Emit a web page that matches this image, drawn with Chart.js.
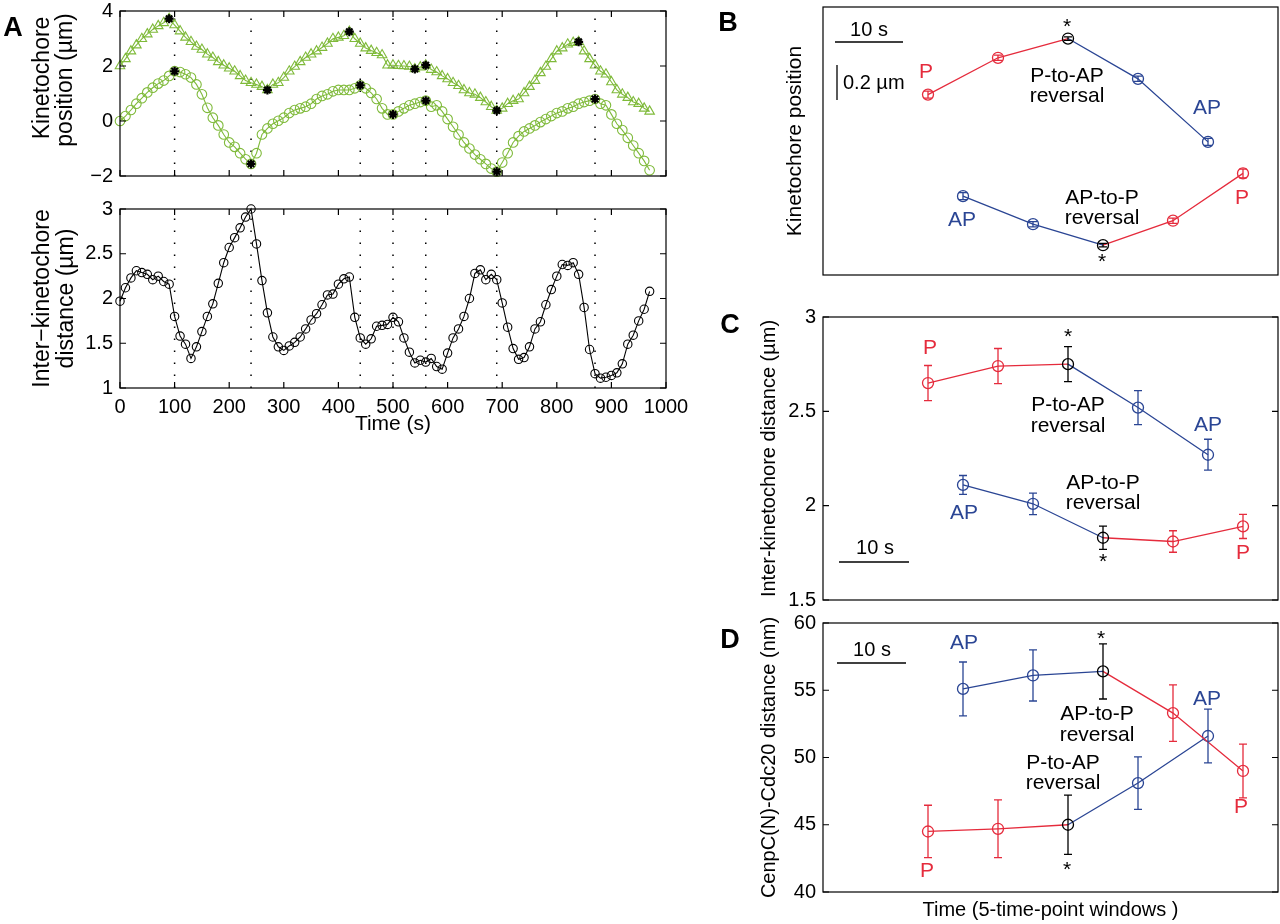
<!DOCTYPE html>
<html>
<head>
<meta charset="utf-8">
<script src="https://cdn.jsdelivr.net/npm/chart.js@4.4.0/dist/chart.umd.min.js"></script>
<style>
  body { margin: 0; background: #fff; width: 1280px; height: 924px; position: relative; overflow: hidden; }
  canvas { position: absolute; }
</style>
</head>
<body>
<canvas id="aTop"></canvas>
<canvas id="aBottom"></canvas>
<canvas id="panelB"></canvas>
<canvas id="panelC"></canvas>
<canvas id="panelD"></canvas>
<script>
// ---- panel A data (one sample every 10 s) ----
const times = [0, 10, 20, 30, 40, 50, 60, 70, 80, 90,
  100, 110, 120, 130, 140, 150, 160, 170, 180, 190,
  200, 210, 220, 230, 240, 250, 260, 270, 280, 290,
  300, 310, 320, 330, 340, 350, 360, 370, 380, 390,
  400, 410, 420, 430, 440, 450, 460, 470, 480, 490,
  500, 510, 520, 530, 540, 550, 560, 570, 580, 590,
  600, 610, 620, 630, 640, 650, 660, 670, 680, 690,
  700, 710, 720, 730, 740, 750, 760, 770, 780, 790,
  800, 810, 820, 830, 840, 850, 860, 870, 880, 890,
  900, 910, 920, 930, 940, 950, 960, 970];

const posTriangle = [2.0, 2.26, 2.54, 2.76, 2.99, 3.16, 3.33, 3.46, 3.57, 3.72,
  3.49, 3.27, 3.04, 2.88, 2.71, 2.60, 2.43, 2.31, 2.15, 2.03,
  1.92, 1.81, 1.64, 1.47, 1.39, 1.33, 1.25, 1.13, 1.33, 1.39,
  1.58, 1.81, 1.98, 2.15, 2.31, 2.43, 2.54, 2.67, 2.82, 2.99,
  3.04, 3.10, 3.25, 2.99, 2.82, 2.65, 2.56, 2.48, 2.40, 2.03,
  2.03, 2.01, 2.00, 1.98, 1.89, 1.96, 2.03, 1.87, 1.78, 1.64,
  1.53, 1.39, 1.28, 1.13, 1.02, 0.97, 0.85, 0.69, 0.52, 0.38,
  0.46, 0.63, 0.74, 0.80, 1.02, 1.25, 1.47, 1.75, 1.98, 2.26,
  2.54, 2.65, 2.79, 2.85, 2.88, 2.54, 2.26, 2.03, 1.81, 1.70,
  1.42, 1.13, 0.97, 0.85, 0.69, 0.63, 0.46, 0.35];

const posCircle = [0.0, 0.18, 0.40, 0.63, 0.83, 1.04, 1.21, 1.36, 1.47, 1.64,
  1.81, 1.78, 1.70, 1.58, 1.33, 0.97, 0.48, 0.12, -0.16, -0.49,
  -0.78, -0.94, -1.17, -1.39, -1.56, -1.17, -0.49, -0.27, -0.10, 0.01,
  0.12, 0.29, 0.40, 0.46, 0.52, 0.63, 0.80, 0.91, 0.97, 1.08,
  1.13, 1.13, 1.13, 1.19, 1.30, 1.19, 1.02, 0.80, 0.46, 0.24,
  0.24, 0.35, 0.46, 0.57, 0.63, 0.69, 0.74, 0.52, 0.57, 0.35,
  0.07, -0.21, -0.49, -0.78, -1.00, -1.22, -1.39, -1.56, -1.73, -1.84,
  -1.51, -1.17, -0.78, -0.55, -0.38, -0.27, -0.16, -0.04, 0.07, 0.18,
  0.29, 0.35, 0.46, 0.52, 0.63, 0.69, 0.74, 0.80, 0.63, 0.57,
  0.24, -0.10, -0.33, -0.61, -0.89, -1.17, -1.45, -1.79];

const interDist = [1.97, 2.12, 2.23, 2.31, 2.29, 2.27, 2.21, 2.25, 2.19, 2.16,
  1.80, 1.58, 1.49, 1.33, 1.46, 1.63, 1.80, 1.94, 2.17, 2.40,
  2.57, 2.68, 2.79, 2.91, 3.00, 2.61, 2.20, 1.84, 1.57, 1.46,
  1.42, 1.47, 1.51, 1.57, 1.66, 1.76, 1.83, 1.93, 2.04, 2.05,
  2.16, 2.22, 2.24, 1.79, 1.56, 1.49, 1.55, 1.69, 1.70, 1.71,
  1.79, 1.74, 1.56, 1.40, 1.28, 1.31, 1.29, 1.33, 1.24, 1.21,
  1.39, 1.56, 1.66, 1.80, 2.00, 2.28, 2.32, 2.21, 2.27, 2.21,
  1.95, 1.68, 1.44, 1.32, 1.34, 1.46, 1.66, 1.74, 1.93, 2.10,
  2.25, 2.38, 2.37, 2.40, 2.27, 1.90, 1.43, 1.16, 1.11, 1.12,
  1.14, 1.17, 1.27, 1.49, 1.59, 1.75, 1.88, 2.08];

// reversal time points (dotted lines + stars on circles), stars on triangles
const reversalTimes = [100, 240, 440, 500, 560, 690, 870];
const triangleStarTimes = [90, 270, 420, 540, 560, 690, 840];

const timeTicks = [0, 100, 200, 300, 400, 500, 600, 700, 800, 900, 1000];
const posTicks = [-2, 0, 2, 4];
const distTicks = [1, 1.5, 2, 2.5, 3];

// ---- panels B-D: averages over 5-time-point windows ----
const winPtoAP = [1.5, 2.5, 3.5, 4.5, 5.5];
const winAPtoP = [2, 3, 4, 5, 6];

const bPtoAP = [1.03, 1.24, 1.35, 1.12, 0.76];
const bPtoAPErr = [0.02, 0.015, 0.01, 0.015, 0.02];
const bAPtoP = [0.45, 0.29, 0.17, 0.31, 0.58];
const bAPtoPErr = [0.02, 0.015, 0.01, 0.015, 0.025];

const cPtoAP = [2.65, 2.74, 2.75, 2.52, 2.27];
const cPtoAPErr = [0.093, 0.093, 0.093, 0.09, 0.082];
const cAPtoP = [2.11, 2.01, 1.83, 1.81, 1.89];
const cAPtoPErr = [0.05, 0.057, 0.062, 0.057, 0.064];
const cTicks = [1.5, 2, 2.5, 3];

const dAPtoP = [55.1, 56.1, 56.4, 53.3, 49.0];
const dAPtoPErr = [2.0, 1.9, 2.05, 2.1, 2.0];
const dPtoAP = [44.5, 44.7, 45.0, 48.1, 51.6];
const dPtoAPErr = [1.95, 2.15, 2.2, 1.95, 2.0];
const dTicks = [40, 45, 50, 55, 60];

// ---- styling ----
const FONT = "'Liberation Sans', Arial, Helvetica, sans-serif";
const GREEN = '#7fba3a';
const RED = '#e52b3c';
const BLUE = '#2a4594';
const BLACK = '#000';
const NONE = 'rgba(0,0,0,0)';

Chart.defaults.font.family = FONT;
Chart.defaults.color = '#000';
Chart.defaults.elements.line.tension = 0;

const pts = (xs, ys) => xs.map((x, i) => ({ x: x, y: ys[i] }));
const fmt = v => (v < 0 ? '\u2212' + Math.abs(v) : String(v));

// box frame with inward ticks on all four sides (matlab look)
function framePlugin(xTicks, yTicks, len) {
  return {
    id: 'frame',
    afterDatasetsDraw(chart) {
      const { ctx, chartArea: a } = chart;
      const xs = chart.scales.x, ys = chart.scales.y;
      ctx.save();
      ctx.strokeStyle = '#000';
      ctx.lineWidth = 1.2;
      ctx.strokeRect(a.left, a.top, a.right - a.left, a.bottom - a.top);
      ctx.beginPath();
      xTicks.forEach(v => {
        const p = xs.getPixelForValue(v);
        ctx.moveTo(p, a.bottom); ctx.lineTo(p, a.bottom - len);
        ctx.moveTo(p, a.top); ctx.lineTo(p, a.top + len);
      });
      yTicks.forEach(v => {
        const p = ys.getPixelForValue(v);
        ctx.moveTo(a.left, p); ctx.lineTo(a.left + len, p);
        ctx.moveTo(a.right, p); ctx.lineTo(a.right - len, p);
      });
      ctx.stroke();
      ctx.restore();
    }
  };
}

// vertical error bars with small caps
function errorBarPlugin(bars) {
  return {
    id: 'errbars',
    afterDatasetsDraw(chart) {
      const ctx = chart.ctx, ys = chart.scales.y;
      ctx.save();
      ctx.lineWidth = 1.3;
      bars.forEach(b => {
        const meta = chart.getDatasetMeta(b.ds);
        meta.data.forEach((pt, j) => {
          const v = chart.data.datasets[b.ds].data[j].y;
          const y1 = ys.getPixelForValue(v - b.err[j]);
          const y2 = ys.getPixelForValue(v + b.err[j]);
          ctx.strokeStyle = b.colors[j];
          ctx.beginPath();
          ctx.moveTo(pt.x, y1); ctx.lineTo(pt.x, y2);
          ctx.moveTo(pt.x - 4, y1); ctx.lineTo(pt.x + 4, y1);
          ctx.moveTo(pt.x - 4, y2); ctx.lineTo(pt.x + 4, y2);
          ctx.stroke();
        });
      });
      ctx.restore();
    }
  };
}

// annotations in page coordinates
function overlayPlugin(rect, texts, lines) {
  return {
    id: 'overlay',
    afterDraw(chart) {
      const ctx = chart.ctx;
      ctx.save();
      ctx.translate(-rect.left, -rect.top);
      lines.forEach(l => {
        ctx.beginPath();
        ctx.strokeStyle = '#000';
        ctx.lineWidth = 1.3;
        ctx.moveTo(l[0], l[1]);
        ctx.lineTo(l[2], l[3]);
        ctx.stroke();
      });
      texts.forEach(t => {
        ctx.save();
        ctx.font = (t.bold ? 'bold ' : '') + (t.size || 21) + 'px ' + FONT;
        ctx.fillStyle = t.color || '#000';
        ctx.textAlign = t.align || 'center';
        ctx.textBaseline = 'middle';
        ctx.translate(t.x, t.y);
        if (t.rot) ctx.rotate(t.rot * Math.PI / 180);
        ctx.fillText(t.text, 0, 0);
        ctx.restore();
      });
      ctx.restore();
    }
  };
}

// one matlab-like axes box; rect = canvas on the page, box = plot area on the page
function buildChart(id, rect, box, cfg) {
  const cv = document.getElementById(id);
  cv.width = rect.w;
  cv.height = rect.h;
  cv.style.left = rect.left + 'px';
  cv.style.top = rect.top + 'px';
  const yW = box.left - rect.left;
  const xH = rect.top + rect.h - box.bottom;
  return new Chart(cv, {
    type: 'line',
    data: { datasets: cfg.datasets },
    options: {
      responsive: false,
      animation: false,
      events: [],
      layout: { padding: { left: 0, top: box.top - rect.top, right: rect.left + rect.w - box.right, bottom: 0 } },
      plugins: { legend: { display: false }, tooltip: { enabled: false } },
      scales: {
        x: {
          type: 'linear', min: cfg.xMin, max: cfg.xMax,
          grid: { display: false, drawTicks: false }, border: { display: false },
          afterBuildTicks: s => { s.ticks = cfg.xTicks.map(v => ({ value: v })); },
          ticks: { display: !!cfg.xLabels, padding: 7, font: { size: 20 }, color: '#000', maxRotation: 0, autoSkip: false, callback: v => fmt(v) },
          title: cfg.xTitle || { display: false },
          afterFit: s => { s.height = xH; }
        },
        y: {
          type: 'linear', min: cfg.yMin, max: cfg.yMax,
          grid: { display: false, drawTicks: false }, border: { display: false },
          afterBuildTicks: s => { s.ticks = cfg.yTicks.map(v => ({ value: v })); },
          ticks: { display: cfg.yTicks.length > 0, padding: 7, font: { size: 20 }, color: '#000', autoSkip: false, callback: v => fmt(v) },
          title: cfg.yTitle || { display: false },
          afterFit: s => { s.width = yW; }
        }
      }
    },
    plugins: [framePlugin(cfg.xTicks, cfg.yTicks, 6), errorBarPlugin(cfg.bars || []), overlayPlugin(rect, cfg.texts || [], cfg.lines || [])]
  });
}

function reversalLines(y0, y1) {
  return reversalTimes.map(t => ({
    data: [{ x: t, y: y0 }, { x: t, y: y1 }],
    borderColor: '#000', borderWidth: 1.5, borderDash: [1.5, 10.5],
    pointRadius: 0, order: 5, clip: false
  }));
}

function stars(ts, series) {
  return {
    data: ts.map(t => ({ x: t, y: series[times.indexOf(t)] })),
    showLine: false, pointStyle: 'star', pointRadius: 4.5,
    pointBorderColor: BLACK, pointBorderWidth: 2.2, order: 0, clip: false
  };
}

function trace(ys, color, style, r) {
  return {
    data: pts(times, ys), borderColor: color, borderWidth: 1.1,
    pointStyle: style, pointRadius: r, pointBorderColor: color,
    pointBackgroundColor: NONE, pointBorderWidth: 1.1, order: 2, clip: false
  };
}

function windowSeries(xs, ys, ptCols, segCols) {
  return {
    data: pts(xs, ys), borderColor: segCols[0], borderWidth: 1.3,
    segment: { borderColor: c => segCols[c.p0DataIndex] },
    pointStyle: 'circle', pointRadius: 5.5, pointBorderColor: ptCols,
    pointBackgroundColor: NONE, pointBorderWidth: 1.3, clip: false
  };
}

const colsPtoAP = [RED, RED, BLACK, BLUE, BLUE];
const segPtoAP = [RED, RED, BLUE, BLUE];
const colsAPtoP = [BLUE, BLUE, BLACK, RED, RED];
const segAPtoP = [BLUE, BLUE, RED, RED];

// ---- A, top: kinetochore positions ----
const rTop = { left: 0, top: -20, w: 720, h: 215 };
buildChart('aTop', rTop, { left: 120, top: 11, right: 666, bottom: 189 }, {
  xMin: 0, xMax: 1000, xTicks: timeTicks, xLabels: false,
  yMin: -2, yMax: 4, yTicks: posTicks,
  datasets: [
    stars(triangleStarTimes, posTriangle),
    stars(reversalTimes, posCircle),
    trace(posTriangle, GREEN, 'triangle', 5.5),
    trace(posCircle, GREEN, 'circle', 4.8),
    ...reversalLines(-2, 4)
  ],
  texts: [
    { text: 'A', x: 13, y: 29, size: 27, bold: true },
    { text: 'Kinetochore', x: 43, y: 78, size: 23, rot: -90 },
    { text: 'position (\u00b5m)', x: 66, y: 80, size: 23, rot: -90 }
  ]
});

// ---- A, bottom: inter-kinetochore distance ----
const rBot = { left: 0, top: 185, w: 720, h: 255 };
buildChart('aBottom', rBot, { left: 120, top: 209, right: 666, bottom: 388 }, {
  xMin: 0, xMax: 1000, xTicks: timeTicks, xLabels: true,
  yMin: 1, yMax: 3, yTicks: distTicks,
  xTitle: { display: true, text: 'Time (s)', font: { size: 21 }, color: '#000', padding: { top: 0, bottom: 3 } },
  yTitle: { display: true, text: ['Inter\u2212kinetochore', 'distance (\u00b5m)'], font: { size: 23, lineHeight: 1.04 }, color: '#000', padding: { top: 31, bottom: 0 } },
  datasets: [
    trace(interDist, BLACK, 'circle', 4.2),
    ...reversalLines(1, 3)
  ]
});

// ---- B: kinetochore position around reversals ----
const rB = { left: 700, top: -20, w: 600, h: 310 };
buildChart('panelB', rB, { left: 823, top: 7, right: 1278, bottom: 275 }, {
  xMin: 0, xMax: 6.5, xTicks: [], yMin: 0, yMax: 1.53, yTicks: [],
  yTitle: { display: true, text: 'Kinetochore position', font: { size: 21 }, color: '#000', padding: { top: 83, bottom: 0 } },
  datasets: [
    windowSeries(winPtoAP, bPtoAP, colsPtoAP, segPtoAP),
    windowSeries(winAPtoP, bAPtoP, colsAPtoP, segAPtoP)
  ],
  bars: [{ ds: 0, err: bPtoAPErr, colors: colsPtoAP }, { ds: 1, err: bAPtoPErr, colors: colsAPtoP }],
  lines: [[835, 42, 903, 42], [837, 65, 837, 100]],
  texts: [
    { text: 'B', x: 728, y: 24, size: 27, bold: true },
    { text: '10 s', x: 869, y: 30, size: 20 },
    { text: '0.2 \u00b5m', x: 843, y: 83, size: 20, align: 'left' },
    { text: 'P', x: 926, y: 72, color: RED },
    { text: '*', x: 1067, y: 27 },
    { text: 'P-to-AP', x: 1067, y: 76 },
    { text: 'reversal', x: 1067, y: 96 },
    { text: 'AP', x: 1207, y: 108, color: BLUE },
    { text: 'AP', x: 962, y: 220, color: BLUE },
    { text: 'AP-to-P', x: 1102, y: 198 },
    { text: 'reversal', x: 1102, y: 218 },
    { text: '*', x: 1102, y: 262 },
    { text: 'P', x: 1242, y: 198, color: RED }
  ]
});

// ---- C: inter-kinetochore distance around reversals ----
const rC = { left: 700, top: 290, w: 600, h: 330 };
buildChart('panelC', rC, { left: 823, top: 317, right: 1278, bottom: 600 }, {
  xMin: 0, xMax: 6.5, xTicks: [], yMin: 1.5, yMax: 3, yTicks: cTicks,
  yTitle: { display: true, text: 'Inter-kinetochore distance (\u00b5m)', font: { size: 20 }, color: '#000', padding: { top: 57, bottom: 0 } },
  datasets: [
    windowSeries(winPtoAP, cPtoAP, colsPtoAP, segPtoAP),
    windowSeries(winAPtoP, cAPtoP, colsAPtoP, segAPtoP)
  ],
  bars: [{ ds: 0, err: cPtoAPErr, colors: colsPtoAP }, { ds: 1, err: cAPtoPErr, colors: colsAPtoP }],
  lines: [[839, 562, 909, 562]],
  texts: [
    { text: 'C', x: 730, y: 326, size: 27, bold: true },
    { text: 'P', x: 930, y: 348, color: RED },
    { text: '*', x: 1068, y: 337 },
    { text: 'P-to-AP', x: 1068, y: 405 },
    { text: 'reversal', x: 1068, y: 426 },
    { text: 'AP', x: 1208, y: 425, color: BLUE },
    { text: 'AP', x: 964, y: 513, color: BLUE },
    { text: 'AP-to-P', x: 1103, y: 483 },
    { text: 'reversal', x: 1103, y: 503 },
    { text: '*', x: 1103, y: 562 },
    { text: 'P', x: 1243, y: 553, color: RED },
    { text: '10 s', x: 875, y: 548, size: 20 }
  ]
});

// ---- D: CenpC(N)-Cdc20 distance around reversals ----
const rD = { left: 700, top: 600, w: 600, h: 324 };
buildChart('panelD', rD, { left: 823, top: 623, right: 1278, bottom: 892 }, {
  xMin: 0, xMax: 6.5, xTicks: [], yMin: 40, yMax: 60, yTicks: dTicks,
  xTitle: { display: true, text: 'Time (5-time-point windows )', font: { size: 20 }, color: '#000', padding: { top: 0, bottom: 2 } },
  yTitle: { display: true, text: 'CenpC(N)-Cdc20 distance (nm)', font: { size: 20 }, color: '#000', padding: { top: 57, bottom: 0 } },
  datasets: [
    windowSeries(winAPtoP, dAPtoP, colsAPtoP, segAPtoP),
    windowSeries(winPtoAP, dPtoAP, colsPtoAP, segPtoAP)
  ],
  bars: [{ ds: 0, err: dAPtoPErr, colors: colsAPtoP }, { ds: 1, err: dPtoAPErr, colors: colsPtoAP }],
  lines: [[837, 663, 906, 663]],
  texts: [
    { text: 'D', x: 730, y: 641, size: 27, bold: true },
    { text: 'AP', x: 964, y: 643, color: BLUE },
    { text: '*', x: 1101, y: 639 },
    { text: 'AP-to-P', x: 1097, y: 714 },
    { text: 'reversal', x: 1097, y: 735 },
    { text: 'AP', x: 1207, y: 699, color: BLUE },
    { text: 'P', x: 1241, y: 807, color: RED },
    { text: 'P-to-AP', x: 1063, y: 763 },
    { text: 'reversal', x: 1063, y: 783 },
    { text: 'P', x: 927, y: 871, color: RED },
    { text: '*', x: 1067, y: 870 },
    { text: '10 s', x: 872, y: 650, size: 20 }
  ]
});
</script>
</body>
</html>
